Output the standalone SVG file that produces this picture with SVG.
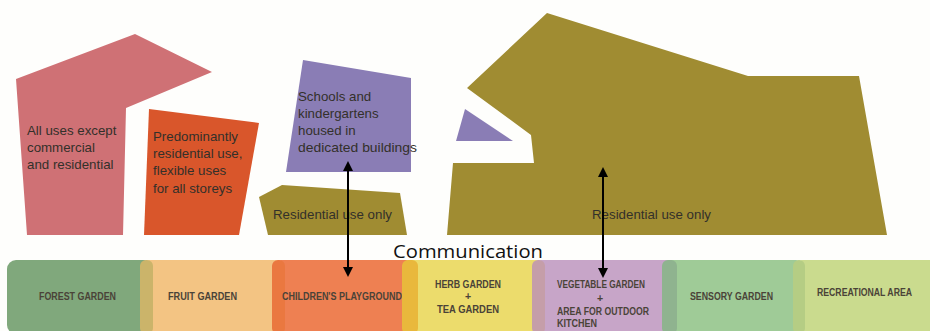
<svg xmlns="http://www.w3.org/2000/svg" width="930" height="331" viewBox="0 0 930 331">
<defs>
<style>
.lbl{font-family:"Liberation Sans",Arial,sans-serif;font-size:13.3px;fill:#33302a}
.band{font-family:"Liberation Sans",Arial,sans-serif;font-size:10.5px;font-weight:bold;fill:#4a4338}
.bandc{font-family:"Liberation Sans",Arial,sans-serif;font-size:10.5px;font-weight:bold;fill:#4a4338;text-anchor:middle}
.title{font-family:"Open Sans","Liberation Sans",sans-serif;font-size:19px;fill:#111}
.conn{stroke:#000;stroke-width:2;fill:none;marker-start:url(#ah);marker-end:url(#ah)}
</style>
<marker id="ah" viewBox="0 0 10 10" refX="8" refY="5" markerWidth="5" markerHeight="5" orient="auto-start-reverse">
<path d="M0,0 L10,5 L0,10 z" fill="#000"/>
</marker>
</defs>
<rect width="930" height="331" fill="#fefefc"/>

<g id="pink-block">
<polygon points="16,79 135,34 212,72 126,108 123,235 27,235" fill="#cf7175"/>
<text class="lbl" x="27" y="135">All uses except</text>
<text class="lbl" x="27" y="152">commercial</text>
<text class="lbl" x="27" y="169">and residential</text>
</g>

<g id="orange-block">
<polygon points="149,109 259,123 239,235 144,235" fill="#d9562b"/>
<text class="lbl" x="153" y="141">Predominantly</text>
<text class="lbl" x="153" y="158">residential use,</text>
<text class="lbl" x="153" y="175">flexible uses</text>
<text class="lbl" x="153" y="193">for all storeys</text>
</g>

<g id="schools-block">
<polygon points="303,60 411,78 411,172 286,172" fill="#8a7db5"/>
<text class="lbl" x="298" y="101">Schools and</text>
<text class="lbl" x="298" y="118">kindergartens</text>
<text class="lbl" x="298" y="135">housed in</text>
<text class="lbl" x="298" y="152" textLength="119" lengthAdjust="spacingAndGlyphs">dedicated buildings</text>
</g>

<g id="residential-small">
<polygon points="282,185 400,193 407,235 268,235 259,197" fill="#a08c32"/>
<text class="lbl" x="273" y="219">Residential use only</text>
</g>

<g id="residential-large">
<polygon points="547,13 748,76 859,76 887,235 447,235 453,163 534,163 531,135 467,88" fill="#a08c32"/>
<polygon points="465,109 513,141 456,141" fill="#8a7db5"/>
<text class="lbl" x="592" y="219">Residential use only</text>
</g>

<text class="title" x="393" y="258" textLength="150" lengthAdjust="spacingAndGlyphs">Communication</text>

<g id="forest-garden">
<rect x="7" y="260" width="146" height="74" rx="9" fill="#80a87c"/>
<text class="band" x="39" y="300" textLength="77" lengthAdjust="spacingAndGlyphs">FOREST GARDEN</text>
</g>
<g id="fruit-garden">
<rect x="140" y="260" width="145" height="74" rx="9" fill="#f3c483"/>
<rect x="140" y="260" width="13" height="74" rx="6" fill="#cbb46a"/>
<text class="band" x="168" y="300" textLength="69" lengthAdjust="spacingAndGlyphs">FRUIT GARDEN</text>
</g>
<g id="childrens-playground">
<rect x="272" y="260" width="143" height="74" rx="9" fill="#ee8052"/>
<rect x="272" y="260" width="13" height="74" rx="6" fill="#ea7840"/>
<text class="band" x="282" y="300" textLength="120" lengthAdjust="spacingAndGlyphs">CHILDREN'S PLAYGROUND</text>
</g>
<g id="herb-garden">
<rect x="402" y="260" width="143" height="74" rx="9" fill="#ecdc6c"/>
<rect x="402" y="260" width="16" height="74" rx="6" fill="#e9b83c"/>
<text class="bandc" x="468" y="288" textLength="66" lengthAdjust="spacingAndGlyphs">HERB GARDEN</text>
<text class="bandc" x="468" y="300">+</text>
<text class="bandc" x="468" y="313" textLength="62" lengthAdjust="spacingAndGlyphs">TEA GARDEN</text>
</g>
<g id="vegetable-garden">
<rect x="532" y="260" width="145" height="74" rx="9" fill="#c7a5c8"/>
<rect x="532" y="260" width="13" height="74" rx="6" fill="#c59ea9"/>
<text class="band" x="557" y="288" textLength="88" lengthAdjust="spacingAndGlyphs">VEGETABLE GARDEN</text>
<text class="bandc" x="600" y="302">+</text>
<text class="band" x="557" y="315" textLength="92" lengthAdjust="spacingAndGlyphs">AREA FOR OUTDOOR</text>
<text class="band" x="557" y="327" textLength="40" lengthAdjust="spacingAndGlyphs">KITCHEN</text>
</g>
<g id="sensory-garden">
<rect x="662" y="260" width="143" height="74" rx="9" fill="#9fcb97"/>
<rect x="662" y="260" width="15" height="74" rx="6" fill="#8fb38f"/>
<text class="band" x="690" y="300" textLength="83" lengthAdjust="spacingAndGlyphs">SENSORY GARDEN</text>
</g>
<g id="recreational-area">
<rect x="793" y="260" width="145" height="74" rx="9" fill="#cadb8e"/>
<rect x="793" y="260" width="12" height="74" rx="6" fill="#b5cd84"/>
<text class="band" x="817" y="296" textLength="95" lengthAdjust="spacingAndGlyphs">RECREATIONAL AREA</text>
</g>

<g id="connectors">
<line class="conn" x1="348" y1="163" x2="348" y2="275"/>
<line class="conn" x1="603" y1="169" x2="603" y2="276"/>
</g>
</svg>
